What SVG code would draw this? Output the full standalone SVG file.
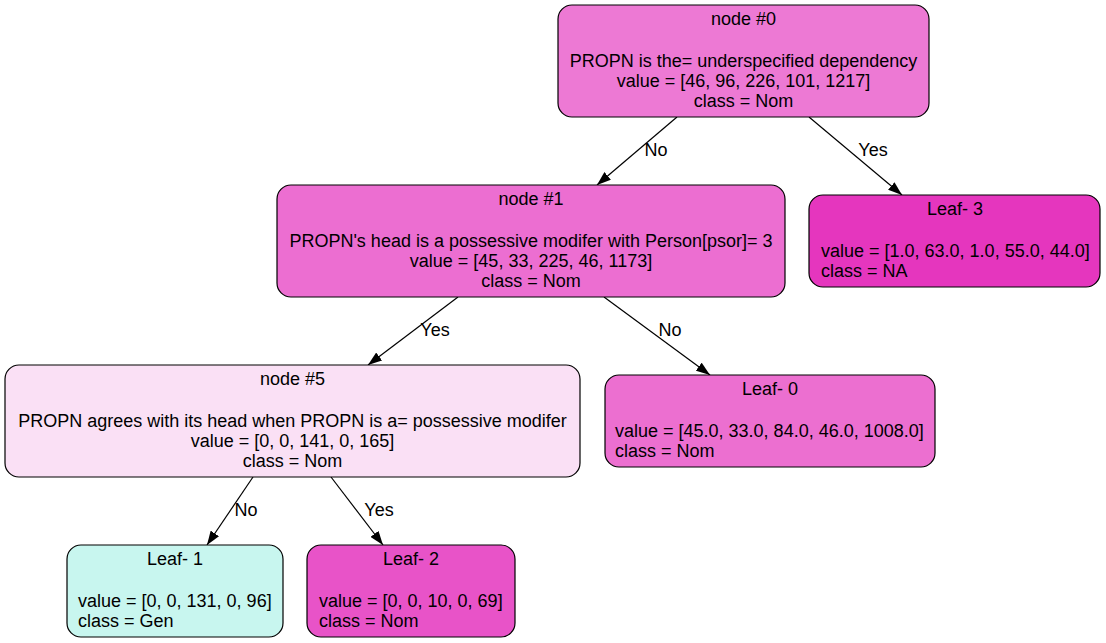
<svg xmlns="http://www.w3.org/2000/svg" width="1106" height="643" viewBox="0 0 1106 643">
<style>
text{font-family:"Liberation Sans",Arial,Helvetica,sans-serif;font-size:18px;fill:#000}
.c{text-anchor:middle}
.box{stroke:#000;stroke-width:1.2}
.edge{stroke:#000;stroke-width:1.2;fill:none;marker-end:url(#ah)}
</style>
<defs>
<marker id="ah" viewBox="0 0 14 10" refX="14" refY="5" markerWidth="14" markerHeight="10" markerUnits="userSpaceOnUse" orient="auto">
<path d="M0,0 L14,5 L0,10 z" fill="#000"/>
</marker>
</defs>
<rect width="1106" height="643" fill="#fff"/>
<g id="edges">
<line class="edge" x1="677" y1="117" x2="597" y2="185"/>
<text class="c" x="656" y="156">No</text>
<line class="edge" x1="809" y1="117" x2="902" y2="195"/>
<text class="c" x="873" y="156">Yes</text>
<line class="edge" x1="458" y1="297" x2="368" y2="365"/>
<text class="c" x="435" y="336">Yes</text>
<line class="edge" x1="604" y1="297" x2="710" y2="375"/>
<text class="c" x="670" y="336">No</text>
<line class="edge" x1="253" y1="477" x2="207" y2="545"/>
<text class="c" x="246" y="516">No</text>
<line class="edge" x1="331" y1="477" x2="383" y2="545"/>
<text class="c" x="379" y="516">Yes</text>
</g>
<g id="node0">
<rect class="box" x="558" y="5" width="371" height="112" rx="14" fill="#ed79d4"/>
<text class="c" x="743.5" y="25">node #0</text>
<text class="c" x="743.5" y="66.5">PROPN is the= underspecified dependency</text>
<text class="c" x="743.5" y="87">value = [46, 96, 226, 101, 1217]</text>
<text class="c" x="743.5" y="107">class = Nom</text>
</g>
<g id="node1">
<rect class="box" x="277" y="185" width="508" height="112" rx="14" fill="#ec6ed1"/>
<text class="c" x="531" y="205">node #1</text>
<text class="c" x="531" y="246.5">PROPN's head is a possessive modifer with Person[psor]= 3</text>
<text class="c" x="531" y="267">value = [45, 33, 225, 46, 1173]</text>
<text class="c" x="531" y="287">class = Nom</text>
</g>
<g id="leaf3">
<rect class="box" x="809" y="195" width="291" height="92" rx="14" fill="#e536be"/>
<text class="c" x="955" y="215">Leaf- 3</text>
<text x="821" y="256.5">value = [1.0, 63.0, 1.0, 55.0, 44.0]</text>
<text x="821" y="277">class = NA</text>
</g>
<g id="node5">
<rect class="box" x="5" y="365" width="575" height="112" rx="14" fill="#fae0f5"/>
<text class="c" x="292.5" y="385">node #5</text>
<text class="c" x="292.5" y="426.5">PROPN agrees with its head when PROPN is a= possessive modifer</text>
<text class="c" x="292.5" y="447">value = [0, 0, 141, 0, 165]</text>
<text class="c" x="292.5" y="467">class = Nom</text>
</g>
<g id="leaf0">
<rect class="box" x="605" y="375" width="330" height="92" rx="14" fill="#ec6fd0"/>
<text class="c" x="770" y="395">Leaf- 0</text>
<text x="615" y="436.5">value = [45.0, 33.0, 84.0, 46.0, 1008.0]</text>
<text x="615" y="457">class = Nom</text>
</g>
<g id="leaf1">
<rect class="box" x="67" y="545" width="216" height="92" rx="14" fill="#c8f6ef"/>
<text class="c" x="175" y="565">Leaf- 1</text>
<text x="78" y="606.5">value = [0, 0, 131, 0, 96]</text>
<text x="78" y="627">class = Gen</text>
</g>
<g id="leaf2">
<rect class="box" x="307" y="545" width="208" height="92" rx="14" fill="#e853c8"/>
<text class="c" x="411" y="565">Leaf- 2</text>
<text x="319" y="606.5">value = [0, 0, 10, 0, 69]</text>
<text x="319" y="627">class = Nom</text>
</g>
</svg>
